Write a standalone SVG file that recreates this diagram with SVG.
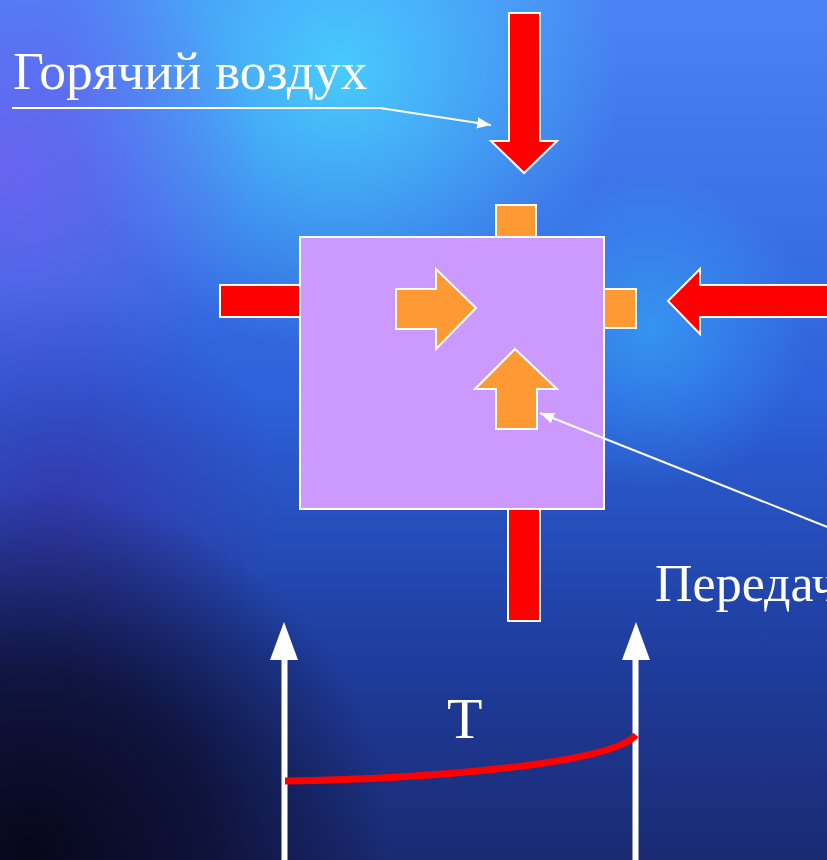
<svg xmlns="http://www.w3.org/2000/svg" width="827" height="860" viewBox="0 0 827 860">
<defs>
<linearGradient id="bg" x1="0" y1="0" x2="0" y2="1">
<stop offset="0" stop-color="#4a84f4"/>
<stop offset="0.45" stop-color="#2e62dc"/>
<stop offset="0.75" stop-color="#1f3ea0"/>
<stop offset="1" stop-color="#1a2a72"/>
</linearGradient>
<radialGradient id="cyan" cx="340" cy="70" r="280" gradientUnits="userSpaceOnUse">
<stop offset="0" stop-color="#48d8ff" stop-opacity="0.85"/>
<stop offset="1" stop-color="#48d8ff" stop-opacity="0"/>
</radialGradient>
<radialGradient id="purp" cx="0" cy="170" r="260" gradientUnits="userSpaceOnUse">
<stop offset="0" stop-color="#7a5cf4" stop-opacity="0.7"/>
<stop offset="1" stop-color="#7a5cf4" stop-opacity="0"/>
</radialGradient>
<radialGradient id="purp2" cx="60" cy="500" r="220" gradientUnits="userSpaceOnUse">
<stop offset="0" stop-color="#3a2aa0" stop-opacity="0.6"/>
<stop offset="1" stop-color="#3a2aa0" stop-opacity="0"/>
</radialGradient>
<radialGradient id="dark" cx="30" cy="850" r="360" gradientUnits="userSpaceOnUse">
<stop offset="0" stop-color="#07071a" stop-opacity="1"/>
<stop offset="0.5" stop-color="#0c0c2c" stop-opacity="0.8"/>
<stop offset="1" stop-color="#0c0c2c" stop-opacity="0"/>
</radialGradient>
<radialGradient id="rcyan" cx="650" cy="330" r="160" gradientUnits="userSpaceOnUse">
<stop offset="0" stop-color="#38b8ff" stop-opacity="0.55"/>
<stop offset="1" stop-color="#38b8ff" stop-opacity="0"/>
</radialGradient>
<marker id="ah2" viewBox="0 0 10 10" refX="10" refY="5" markerWidth="14" markerHeight="14" markerUnits="userSpaceOnUse" orient="auto">
<path d="M0,1 L10,5 L0,9 z" fill="#fff"/>
</marker>
</defs>
<style>
.lbl{font-family:"Liberation Serif","Times New Roman",serif;fill:#fff;}
.red{fill:#ff0000;stroke:#fff;stroke-width:2;}
.org{fill:#ff9933;stroke:#fff;stroke-width:2;}
.sq{fill:#cc99ff;stroke:#fff;stroke-width:2;}
.ptr{stroke:#fff;stroke-width:2;fill:none;}
.ax{stroke:#fff;stroke-width:6;fill:none;}
.axh{fill:#fff;}
</style>
<rect width="827" height="860" fill="url(#bg)"/>
<rect width="827" height="860" fill="url(#cyan)"/>
<rect width="827" height="860" fill="url(#purp)"/>
<rect width="827" height="860" fill="url(#purp2)"/>
<rect width="827" height="860" fill="url(#rcyan)"/>
<rect width="827" height="860" fill="url(#dark)"/>

<g id="hot-air-arrow">
<path class="red" d="M509,13 L540,13 L540,141 L557,141 L524,173 L491,141 L509,141 Z"/>
</g>
<g id="right-arrow">
<path class="red" d="M830,285 L700,285 L700,269 L668,301 L700,334 L700,317 L830,317 Z"/>
</g>
<g id="left-bar">
<rect class="red" x="220" y="285" width="82" height="32"/>
</g>
<g id="bottom-bar">
<rect class="red" x="508" y="507" width="32" height="114"/>
</g>
<g id="top-tab">
<rect class="org" x="496" y="205" width="40" height="34"/>
</g>
<g id="right-tab">
<rect class="org" x="602" y="289" width="34" height="39"/>
</g>
<g id="body">
<rect class="sq" x="300" y="237" width="304" height="272"/>
</g>
<g id="inner-right-arrow">
<path class="org" d="M396,289 L436,289 L436,269 L476,308 L436,349 L436,329 L396,329 Z"/>
</g>
<g id="inner-up-arrow">
<path class="org" d="M515,349 L557,389 L537,389 L537,429 L496,429 L496,389 L475,389 Z"/>
</g>

<g id="label-hot-air">
<text class="lbl" x="13" y="89" font-size="53.5">Горячий воздух</text>
</g>
<g id="label-transfer">
<text class="lbl" x="655" y="601" font-size="52">Передач</text>
</g>
<g id="label-T">
<text class="lbl" x="447" y="738" font-size="58">T</text>
</g>

<g id="connectors">
<polyline class="ptr" points="12,108 380,108 491,125" marker-end="url(#ah2)"/>
<line class="ptr" x1="830" y1="528" x2="540" y2="413" marker-end="url(#ah2)"/>
<line class="ax" x1="284.5" y1="660" x2="284.5" y2="862"/>
<path class="axh" d="M284,622 L298,660 L270,660 Z"/>
<line class="ax" x1="635.5" y1="660" x2="635.5" y2="862"/>
<path class="axh" d="M636,622 L650,660 L622,660 Z"/>
<path d="M285,781 C420,779 610,765 636,735" stroke="#ff0000" stroke-width="7" fill="none"/>
</g>
</svg>
